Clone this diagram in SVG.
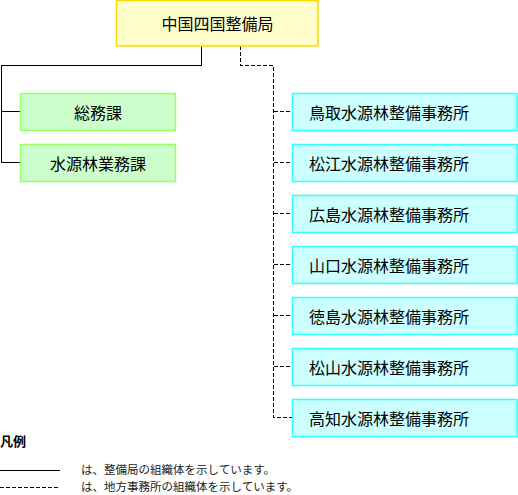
<svg xmlns="http://www.w3.org/2000/svg" width="518" height="495" viewBox="0 0 518 495">
<style>
text{font-family:"Noto Sans CJK JP","Noto Sans",sans-serif;fill:#000;dominant-baseline:central}
.n{font-size:16px}
.c{text-anchor:middle}
.top{fill:#FFFFCC;stroke:#FFD700;stroke-width:1.5}
.sec{fill:#CCFFCC;stroke:#99FF66;stroke-width:1.5}
.off{fill:#CCFFFF;stroke:#33FFFF;stroke-width:1.5}
.solid{fill:none;stroke:#000;stroke-width:1;shape-rendering:crispEdges}
.dash{fill:none;stroke:#000;stroke-width:1;stroke-dasharray:4,2;shape-rendering:crispEdges}
.leg{font-size:11.5px;fill:#222}
</style>
<g id="connectors">
<polyline class="solid" points="201.5,46 201.5,65.5 1.5,65.5 1.5,162.5 20,162.5"/>
<line class="solid" x1="1.5" y1="111.5" x2="20" y2="111.5"/>
<polyline class="dash" points="240.5,46 240.5,65.5 273.5,65.5 273.5,417.5 292,417.5"/>
<line class="dash" x1="273.5" y1="111.5" x2="292" y2="111.5"/>
<line class="dash" x1="273.5" y1="162.5" x2="292" y2="162.5"/>
<line class="dash" x1="273.5" y1="213.5" x2="292" y2="213.5"/>
<line class="dash" x1="273.5" y1="264.5" x2="292" y2="264.5"/>
<line class="dash" x1="273.5" y1="315.5" x2="292" y2="315.5"/>
<line class="dash" x1="273.5" y1="366.5" x2="292" y2="366.5"/>
</g>
<g id="n-top"><rect class="top" x="116.5" y="0.5" width="201.5" height="45.5"/><text class="n c" x="217.5" y="23">中国四国整備局</text></g>
<g id="n-somu"><rect class="sec" x="20.5" y="93.5" width="155" height="37"/><text class="n c" x="98" y="111.5">総務課</text></g>
<g id="n-suigen"><rect class="sec" x="20.5" y="144.5" width="155" height="37"/><text class="n c" x="98" y="162.5">水源林業務課</text></g>
<g id="n-tottori"><rect class="off" x="292.5" y="93.5" width="224.5" height="37"/><text class="n" x="309" y="111.5">鳥取水源林整備事務所</text></g>
<g id="n-matsue"><rect class="off" x="292.5" y="144.5" width="224.5" height="37"/><text class="n" x="309" y="162.5">松江水源林整備事務所</text></g>
<g id="n-hiroshima"><rect class="off" x="292.5" y="195.5" width="224.5" height="37"/><text class="n" x="309" y="213.5">広島水源林整備事務所</text></g>
<g id="n-yamaguchi"><rect class="off" x="292.5" y="246.5" width="224.5" height="37"/><text class="n" x="309" y="264.5">山口水源林整備事務所</text></g>
<g id="n-tokushima"><rect class="off" x="292.5" y="297.5" width="224.5" height="37"/><text class="n" x="309" y="315.5">徳島水源林整備事務所</text></g>
<g id="n-matsuyama"><rect class="off" x="292.5" y="348.5" width="224.5" height="37"/><text class="n" x="309" y="366.5">松山水源林整備事務所</text></g>
<g id="n-kochi"><rect class="off" x="292.5" y="399.5" width="224.5" height="37"/><text class="n" x="309" y="417.5">高知水源林整備事務所</text></g>
<g id="legend">
<text x="0" y="440" style="font-size:13px;font-weight:bold">凡例</text>
<line x1="0" y1="470.5" x2="60" y2="470.5" stroke="#000" stroke-width="1" shape-rendering="crispEdges"/>
<line x1="0" y1="487.5" x2="60" y2="487.5" stroke="#000" stroke-width="1" stroke-dasharray="4,2" shape-rendering="crispEdges"/>
<text class="leg" x="81" y="469">は、整備局の組織体を示しています。</text>
<text class="leg" x="81" y="486">は、地方事務所の組織体を示しています。</text>
</g>
</svg>
